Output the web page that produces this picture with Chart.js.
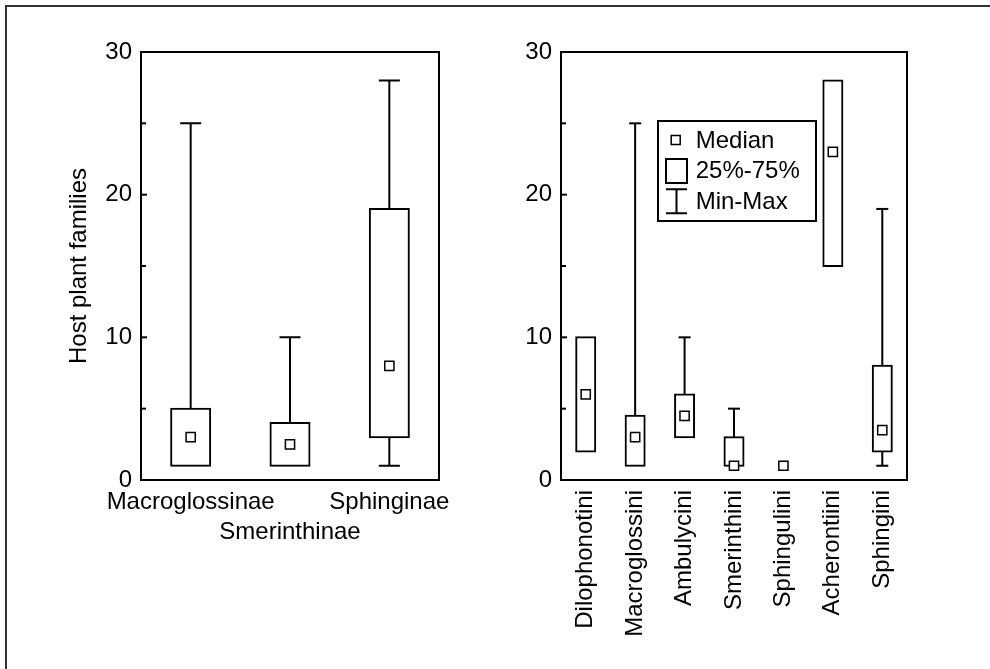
<!DOCTYPE html>
<html>
<head>
<meta charset="utf-8">
<script src="https://cdn.jsdelivr.net/npm/chart.js@4.4.0/dist/chart.umd.min.js"></script>
<style>
  html, body { margin: 0; padding: 0; background: #fff; }
  #wrap { position: relative; width: 990px; height: 669px; overflow: hidden; }
  #frame { position: absolute; left: 5px; top: 5px; width: 1000px; height: 700px;
           border-top: 2px solid #333; border-left: 2px solid #333; }
  canvas { position: absolute; top: 0; }
  #left { left: 0; }
  #right { left: 495px; }
</style>
</head>
<body>
<div id="wrap">
  <div id="frame"></div>
  <canvas id="left" width="495" height="669"></canvas>
  <canvas id="right" width="495" height="669"></canvas>
</div>
<script>
// subfamilies (left panel)
var subfamilies = ['Macroglossinae', 'Smerinthinae', 'Sphinginae'];
var subMin = [1, 1, 1];
var subQ1 = [1, 1, 3];
var subMedian = [3, 2.5, 8];
var subQ3 = [5, 4, 19];
var subMax = [25, 10, 28];

// tribes (right panel)
var tribes = ['Dilophonotini', 'Macroglossini', 'Ambulycini', 'Smerinthini', 'Sphingulini', 'Acherontiini', 'Sphingini'];
var tribeMin = [2, 1, 3, 1, 1, 15, 1];
var tribeQ1 = [2, 1, 3, 1, 1, 15, 2];
var tribeMedian = [6, 3, 4.5, 1, 1, 23, 3.5];
var tribeQ3 = [10, 4.5, 6, 3, 1, 28, 8];
var tribeMax = [10, 25, 10, 5, 1, 28, 19];

var yTicks = [0, 10, 20, 30];
var yMinorStep = 5;

var FONT = "'Liberation Sans', Arial, sans-serif";
Chart.defaults.font.family = FONT;
Chart.defaults.font.size = 24;
Chart.defaults.color = '#000';

// ranges, null where there is nothing to draw
function range(lo, hi) {
  return lo.map(function (v, i) { return hi[i] > v ? [v, hi[i]] : null; });
}
function ends(vals, other) {
  return vals.map(function (v, i) { return v !== other[i] ? v : null; });
}

function boxDatasets(mn, q1, med, q3, mx, boxW, capR) {
  return [
    { type: 'line', data: med, showLine: false, pointStyle: 'rect', pointRadius: 6.5,
      pointBorderWidth: 1.5, pointBackgroundColor: '#fff', pointBorderColor: '#000', order: 0 },
    { type: 'line', data: ends(mx, q3), showLine: false, pointStyle: 'line', pointRadius: capR,
      pointBorderWidth: 2, pointBorderColor: '#000', order: 1 },
    { type: 'line', data: ends(mn, q1), showLine: false, pointStyle: 'line', pointRadius: capR,
      pointBorderWidth: 2, pointBorderColor: '#000', order: 1 },
    { data: range(q1, q3), backgroundColor: '#fff', borderColor: '#000', borderWidth: 2,
      borderSkipped: false, barThickness: boxW, inflateAmount: 1, grouped: false, order: 2 },
    { data: range(q3, mx), backgroundColor: '#000', borderWidth: 0,
      barThickness: 2, inflateAmount: 0, grouped: false, order: 3 },
    { data: range(mn, q1), backgroundColor: '#000', borderWidth: 0,
      barThickness: 2, inflateAmount: 0, grouped: false, order: 3 }
  ];
}

// plot frame and inward ticks
var frame = {
  id: 'frame',
  afterDraw: function (chart) {
    var ctx = chart.ctx, a = chart.chartArea, y = chart.scales.y;
    ctx.save();
    ctx.strokeStyle = '#000';
    ctx.lineWidth = 2;
    ctx.strokeRect(a.left, a.top, a.right - a.left, a.bottom - a.top);
    for (var v = y.min; v <= y.max; v += yMinorStep) {
      var py = y.getPixelForValue(v);
      var len = yTicks.indexOf(v) >= 0 ? 6 : 5;
      ctx.beginPath();
      ctx.moveTo(a.left, py);
      ctx.lineTo(a.left + len, py);
      ctx.stroke();
    }
    ctx.restore();
  }
};

var boxLegend = {
  id: 'boxLegend',
  afterDraw: function (chart) {
    var ctx = chart.ctx, a = chart.chartArea;
    var x0 = a.left + 97, y0 = a.top + 69;
    ctx.save();
    ctx.strokeStyle = '#000';
    ctx.fillStyle = '#fff';
    ctx.lineWidth = 2;
    ctx.fillRect(x0, y0, 158, 100);
    ctx.strokeRect(x0, y0, 158, 100);
    // median
    ctx.lineWidth = 1.5;
    ctx.strokeRect(x0 + 13.2, y0 + 14.5, 9, 9);
    // box
    ctx.lineWidth = 2;
    ctx.strokeRect(x0 + 8, y0 + 38, 21, 24);
    // min-max
    ctx.beginPath();
    ctx.moveTo(x0 + 8, y0 + 68.3); ctx.lineTo(x0 + 29, y0 + 68.3);
    ctx.moveTo(x0 + 18.5, y0 + 68.3); ctx.lineTo(x0 + 18.5, y0 + 92.3);
    ctx.moveTo(x0 + 8, y0 + 92.3); ctx.lineTo(x0 + 29, y0 + 92.3);
    ctx.stroke();
    ctx.fillStyle = '#000';
    ctx.font = '24px ' + FONT;
    ctx.textBaseline = 'middle';
    ctx.textAlign = 'left';
    ctx.fillText('Median', x0 + 37.7, y0 + 20);
    ctx.fillText('25%-75%', x0 + 37.7, y0 + 50.5);
    ctx.fillText('Min-Max', x0 + 37.7, y0 + 81);
    ctx.restore();
  }
};

function yScale(width, title) {
  return {
    min: 0, max: 30,
    afterBuildTicks: function (s) { s.ticks = yTicks.map(function (v) { return { value: v }; }); },
    afterFit: function (s) { s.width = width; },
    grid: { display: false, drawTicks: false },
    border: { display: false },
    ticks: { padding: 9, font: { size: 24 } },
    title: title ? { display: true, text: title, font: { size: 24 }, padding: { top: 65, bottom: 0 } } : { display: false }
  };
}

new Chart(document.getElementById('left'), {
  type: 'bar',
  data: {
    labels: subfamilies.map(function (c, i) { return i % 2 ? ['', c] : c; }),
    datasets: boxDatasets(subMin, subQ1, subMedian, subQ3, subMax, 39, 10.5)
  },
  options: {
    responsive: false, animation: false, devicePixelRatio: 1, events: [],
    layout: { padding: { top: 52, right: 56, bottom: 0, left: 0 } },
    plugins: { legend: { display: false }, tooltip: { enabled: false } },
    scales: {
      x: {
        afterFit: function (s) { s.height = 189; },
        grid: { display: false, drawTicks: false },
        border: { display: false },
        ticks: { padding: 7, autoSkip: false, maxRotation: 0, minRotation: 0,
                 font: { size: 24, lineHeight: 30 / 24 } }
      },
      y: yScale(141, 'Host plant families')
    }
  },
  plugins: [frame]
});

new Chart(document.getElementById('right'), {
  type: 'bar',
  data: {
    labels: tribes,
    datasets: boxDatasets(tribeMin, tribeQ1, tribeMedian, tribeQ3, tribeMax, 19, 6)
  },
  options: {
    responsive: false, animation: false, devicePixelRatio: 1, events: [],
    layout: { padding: { top: 52, right: 83, bottom: 0, left: 0 } },
    plugins: { legend: { display: false }, tooltip: { enabled: false } },
    scales: {
      x: {
        afterFit: function (s) { s.height = 189; },
        grid: { display: false, drawTicks: false },
        border: { display: false },
        ticks: { padding: 10, autoSkip: false, maxRotation: 90, minRotation: 90, font: { size: 24 } }
      },
      y: yScale(66, null)
    }
  },
  plugins: [frame, boxLegend]
});
</script>
</body>
</html>
